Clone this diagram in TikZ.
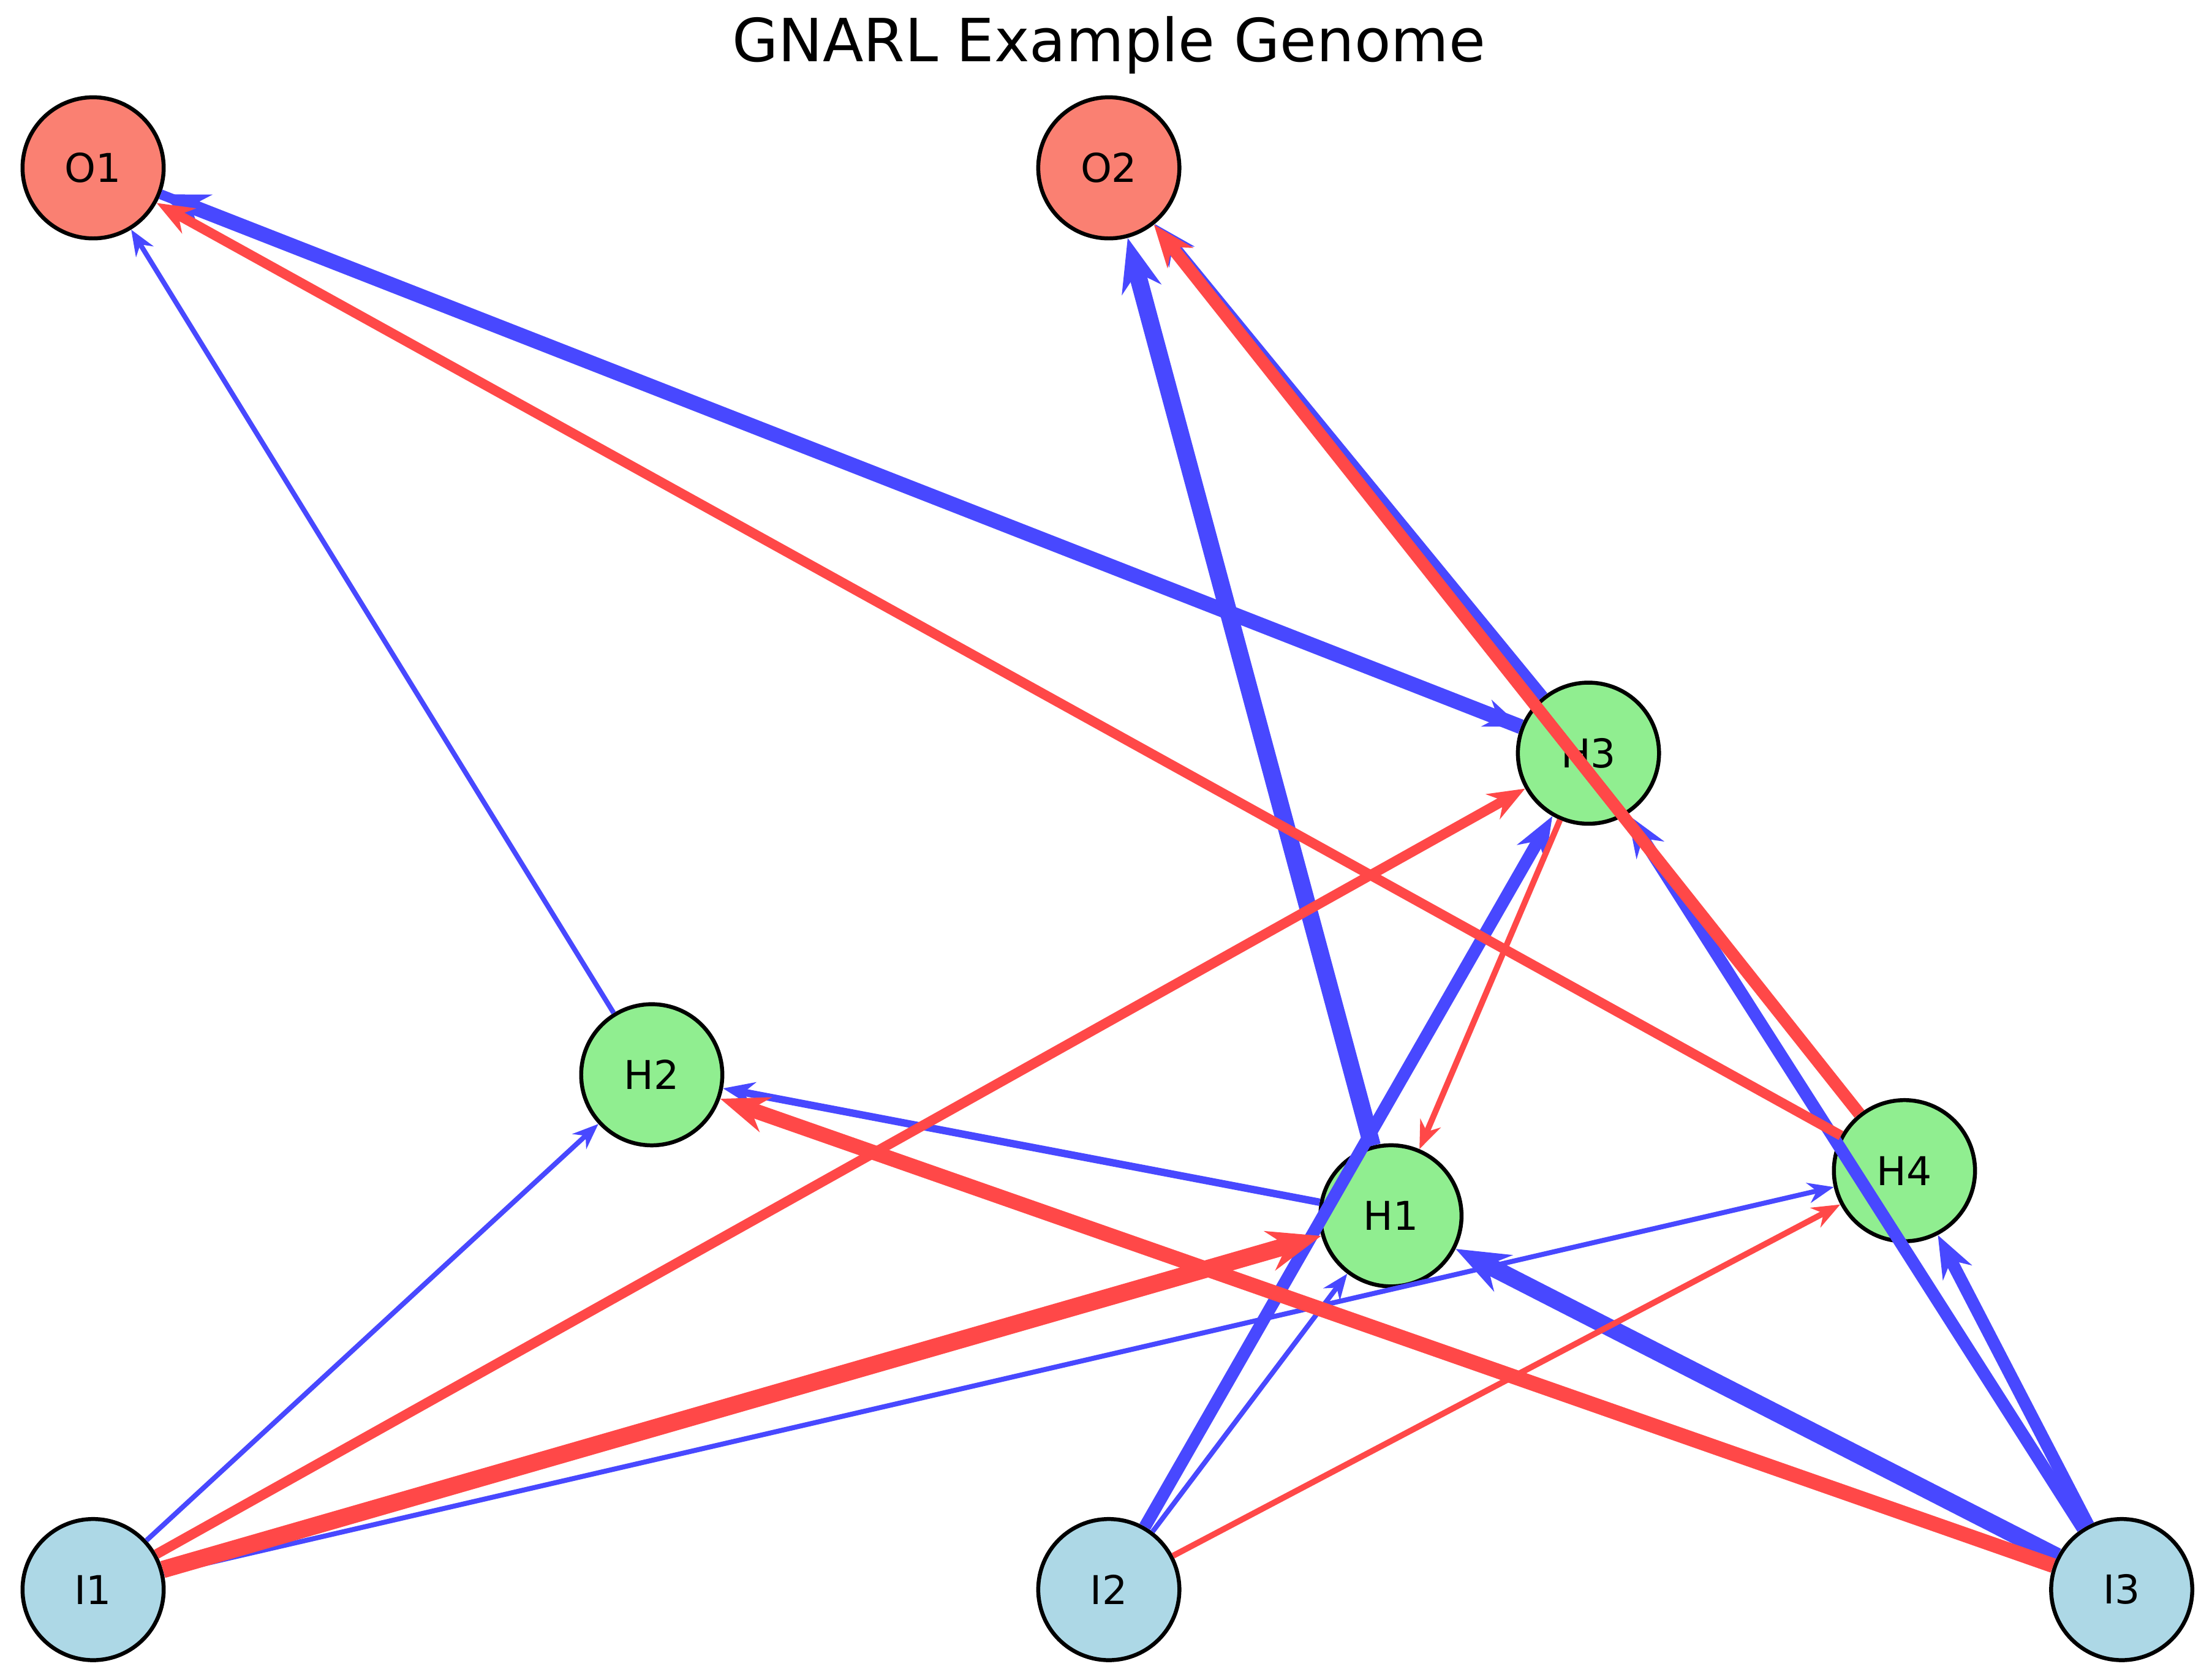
\documentclass[tikz,border=0pt]{standalone}
\usepackage{fontspec}
\setmainfont{DejaVu Sans}
\usetikzlibrary{positioning}
\usetikzlibrary{arrows.meta}
\definecolor{outcol}{HTML}{FA8072}
\definecolor{hidcol}{HTML}{90EE90}
\definecolor{incol}{HTML}{ADD8E6}
\definecolor{poscol}{HTML}{4848FF}
\definecolor{negcol}{HTML}{FF4848}
\tikzset{%
  every gene/.style={
    circle,
    draw,
    thick,
    minimum size=1cm,
    font=\footnotesize
  },
  out gene/.style={every gene, fill=outcol},
  hid gene/.style={every gene, fill=hidcol},
  in gene/.style={every gene, fill=incol},
  link/.style={-{Stealth[length=#1*2.2pt+3pt,width=#1*1.6pt+2.5pt]}, line width=#1*1pt},
  pos/.style={draw=poscol, link=#1},
  neg/.style={draw=negcol, link=#1},
}

\begin{document}
\begin{tikzpicture}[x=0.01cm,y=-0.01cm]
      \useasboundingbox (0,0) rectangle (1568,1191);
      \node[font=\large] (title) at (786,32) {GNARL Example Genome};

      % Genes
      \node[out gene] (O1) at (66,119) {O1};
      \node[out gene] (O2) at (786,119) {O2};
      \node[hid gene] (H1) at (986,862) {H1};
      \node[hid gene] (H2) at (462,762) {H2};
      \node[hid gene] (H3) at (1126,534) {H3};
      \node[hid gene] (H4) at (1350,830) {H4};
      \node[in gene] (I1) at (66,1127) {I1};
      \node[in gene] (I2) at (786,1127) {I2};
      \node[in gene] (I3) at (1504,1127) {I3};

      % Positive links
      \foreach \a/\b/\w in {H2/O1/1, H3/O1/3, O1/H3/2, H1/O2/3.5, H3/O2/2.5, H1/H2/1.5,
                            I1/H2/1, I1/H4/1, I2/H1/1, I2/H3/2.5, I3/H1/3.5, I3/H3/2.5, I3/H4/2.5}
        \draw[pos=\w] (\a) -- (\b);

      % Negative links
      \foreach \a/\b/\w in {H4/O1/2, H4/O2/2.5, I1/H3/2, I1/H1/3.5, I3/H2/3, I2/H4/1.2, H3/H1/1.2}
        \draw[neg=\w] (\a) -- (\b);
    \end{tikzpicture}
\end{document}
